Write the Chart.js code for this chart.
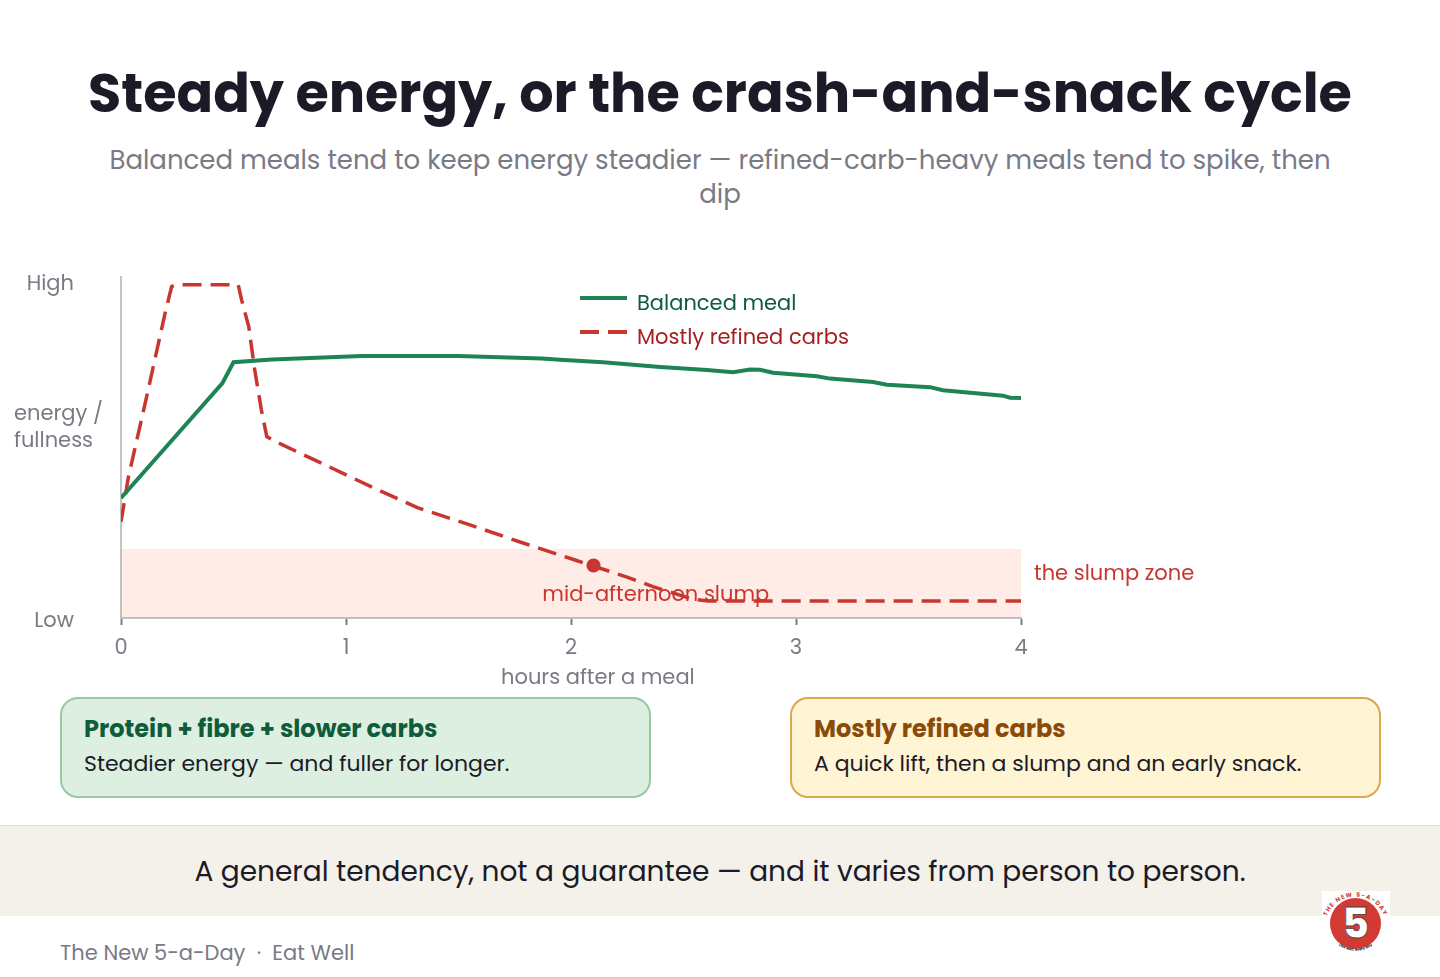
<!DOCTYPE html>
<html>
<head>
<meta charset="utf-8">
<title>Steady energy</title>
<script src="https://cdn.jsdelivr.net/npm/chart.js@4"></script>
<style>
  html, body { margin: 0; padding: 0; background: #fff; }
  body { width: 1440px; height: 977px; position: relative; overflow: hidden; font-family: Poppins, Inter, sans-serif; color: #1b1b28; text-rendering: optimizeLegibility; font-variant-ligatures: common-ligatures discretionary-ligatures; }
  .abs { position: absolute; white-space: nowrap; }
  h1 { left: 0; width: 1440px; top: 59px; margin: 0; text-align: center; font-size: 54px; line-height: 68px; font-weight: 700; }
  #sub { left: 0; width: 1440px; top: 143px; text-align: center; font-size: 26px; line-height: 34px; color: #7a7a85; }
  #chart-wrap { position: absolute; left: 0; top: 260px; width: 1440px; height: 440px; }
  .lab { font-size: 21px; line-height: 27px; color: #7a7a85; }
  .swatch { position: absolute; left: 580px; width: 47px; height: 4px; }
  .card { position: absolute; top: 697px; width: 587px; height: 97px; border-radius: 18px; border: 2px solid; }
  .card b { position: absolute; left: 22px; top: 14px; font-size: 24px; line-height: 32px; font-weight: 700; white-space: nowrap; }
  .card span { position: absolute; left: 22px; top: 49px; font-size: 22px; line-height: 32px; white-space: nowrap; }
  #band { position: absolute; left: 0; top: 825px; width: 1440px; height: 90px; background: #f4f1ea; border-top: 1px solid #e0e0e0; text-align: center; font-size: 28px; line-height: 91px; }
  #foot { left: 60px; top: 939px; font-size: 21px; line-height: 28px; color: #7a7a85; }
  #logo { position: absolute; left: 1322px; top: 891px; }
</style>
</head>
<body>
<h1 class="abs">Steady energy, or the crash-and-snack cycle</h1>
<div class="abs" id="sub">Balanced meals tend to keep energy steadier — refined-carb-heavy meals tend to spike, then<br>dip</div>

<div id="chart-wrap"><canvas id="chart"></canvas></div>

<div class="abs lab" style="left:14px;top:399px">energy /<br>fullness</div>
<div class="abs lab" style="left:501px;top:663px">hours after a meal</div>
<div class="swatch" style="top:296px;background:#1e8455"></div>
<div class="swatch" style="top:330px;background:repeating-linear-gradient(90deg,#c8362f 0 19.3px,transparent 19.3px 27.7px)"></div>
<div class="abs lab" style="left:637px;top:289px;color:#0f5c3a">Balanced meal</div>
<div class="abs lab" style="left:637px;top:323px;color:#a61e1e">Mostly refined carbs</div>
<div class="abs lab" style="left:1034px;top:559px;color:#c8362f">the slump zone</div>

<div class="card" style="left:60px;background:#ddefe1;border-color:#97c9a3">
  <b style="color:#0f5c3a">Protein + fibre + slower carbs</b>
  <span>Steadier energy — and fuller for longer.</span>
</div>
<div class="card" style="left:790px;background:#fff4d4;border-color:#dba94a">
  <b style="color:#8a4b08">Mostly refined carbs</b>
  <span>A quick lift, then a slump and an early snack.</span>
</div>

<div id="band">A general tendency, not a guarantee — and it varies from person to person.</div>
<div class="abs" id="foot">The New 5-a-Day &nbsp;·&nbsp; Eat Well</div>

<svg id="logo" width="68" height="60" viewBox="0 0 68 60">
  <rect width="68" height="60" fill="#fff"/>
  <circle cx="33.5" cy="32.5" r="25.5" fill="#d43a34"/>
  <defs>
    <path id="arcTop" d="M3 36 A30.5 30.5 0 0 1 64 36"/>
    <path id="arcBot" d="M10 47 A28 28 0 0 0 57 47"/>
  </defs>
  <text font-size="6" font-weight="700" fill="#d43a34" letter-spacing="1.2"><textPath href="#arcTop" startOffset="50%" text-anchor="middle">THE NEW 5-A-DAY</textPath></text>
  <text font-size="3.6" font-weight="700" fill="#1b1b28"><textPath href="#arcBot" startOffset="50%" text-anchor="middle">Live well, every day</textPath></text>
  <text x="33.5" y="47" text-anchor="middle" font-size="42" font-weight="800" fill="#fff" stroke="#444" stroke-width="0.8">5</text>
</svg>

<script>
// hours after a meal / energy level
const balancedHours = [0, 0.45, 0.5, 0.67, 1.07, 1.5, 1.87, 1.951, 2.142, 2.396, 2.604, 2.72, 2.796, 2.84, 2.898, 3.093, 3.151, 3.342, 3.404, 3.596, 3.653, 3.92, 3.951, 4];
const balancedLevel = [35.2, 68.8, 75, 75.8, 76.8, 76.8, 76.1, 75.7, 75, 73.6, 72.7, 72.1, 72.9, 72.8, 71.9, 70.9, 70.2, 69.2, 68.4, 67.7, 66.8, 65.2, 64.6, 64.5];
const refinedHours = [0, 0.032, 0.114, 0.196, 0.225, 0.244, 0.521, 0.536, 0.568, 0.592, 0.624, 0.648, 0.688, 1.151, 1.32, 1.551, 1.787, 2.018, 2.249, 2.364, 2.484, 2.542, 2.609, 4];
const refinedLevel = [28.2, 41, 64.9, 89.4, 97.2, 97.7, 97.7, 93.3, 85.4, 73.7, 61, 53.2, 51.7, 37.3, 32.3, 27.3, 22, 17, 12, 9.2, 6.7, 5.5, 5, 5];
const slumpHours = [0, 4];
const slumpLevel = [20.2, 20.2];
const slumpPoint = [2.1, 15.4];
const xTicks = [0, 1, 2, 3, 4];
const yTickLabels = { 97.6: "High", "-1.2": "Low" };
const midLabel = "mid-afternoon slump";

const toPoints = (xs, ys) => xs.map((x, i) => ({ x: x, y: ys[i] }));
const font = "Poppins, Inter, sans-serif";

//text sitting on the chart, under the slump marker
const slumpText = {
  id: "slumpText",
  afterDatasetsDraw(chart) {
    const { ctx, scales } = chart;
    ctx.save();
    ctx.font = "21px " + font;
    ctx.fillStyle = "#c8362f";
    ctx.textAlign = "center";
    ctx.textBaseline = "middle";
    ctx.fillText(midLabel, scales.x.getPixelForValue(2.377), scales.y.getPixelForValue(6.6));
    ctx.restore();
  },
};

new Chart(document.getElementById("chart"), {
  type: "line",
  plugins: [slumpText],
  data: {
    datasets: [
      { label: "Balanced meal", data: toPoints(balancedHours, balancedLevel), borderColor: "#1e8455", borderWidth: 4, pointRadius: 0, tension: 0, order: 1 },
      { label: "Mostly refined carbs", data: toPoints(refinedHours, refinedLevel), borderColor: "#c8362f", borderWidth: 3.5, borderDash: [19, 9], pointRadius: 0, tension: 0, order: 2 },
      { label: "mid-afternoon slump", data: [{ x: slumpPoint[0], y: slumpPoint[1] }], pointRadius: 7, pointBackgroundColor: "#c8362f", pointBorderWidth: 0, showLine: false, order: 0 },
      { label: "the slump zone", data: toPoints(slumpHours, slumpLevel), borderWidth: 0, pointRadius: 0, fill: "origin", backgroundColor: "rgba(255,80,30,0.11)", order: 3 },
    ],
  },
  options: {
    responsive: true,
    maintainAspectRatio: false,
    animation: { duration: 0 },
    layout: { padding: { top: 17, right: 419, left: 0, bottom: 0 } },
    plugins: { legend: { display: false }, tooltip: false },
    scales: {
      x: {
        type: "linear",
        min: 0,
        max: 4,
        afterFit: (scale) => { scale.height = 82; },
        afterBuildTicks: (scale) => { scale.ticks = xTicks.map((v) => ({ value: v })); },
        border: { color: "#c4c4c8", width: 2 },
        grid: { drawOnChartArea: false, tickColor: "#7a7a85", tickWidth: 2, tickLength: 7 },
        ticks: { color: "#7a7a85", font: { size: 21, family: font }, padding: 11, maxRotation: 0, callback: (v) => String(v) },
      },
      y: {
        min: 0,
        max: 100,
        afterFit: (scale) => { scale.width = 121; scale.paddingTop = 0; scale.paddingBottom = 0; },
        afterBuildTicks: (scale) => { scale.ticks = Object.keys(yTickLabels).map((k) => ({ value: Number(k) })); },
        border: { color: "#c4c4c8", width: 2 },
        grid: { display: true, drawOnChartArea: false, drawTicks: false },
        ticks: { color: "#7a7a85", font: { size: 21, family: font }, padding: 47, callback: (v) => yTickLabels[v] },
      },
    },
  },
});
</script>
</body>
</html>
